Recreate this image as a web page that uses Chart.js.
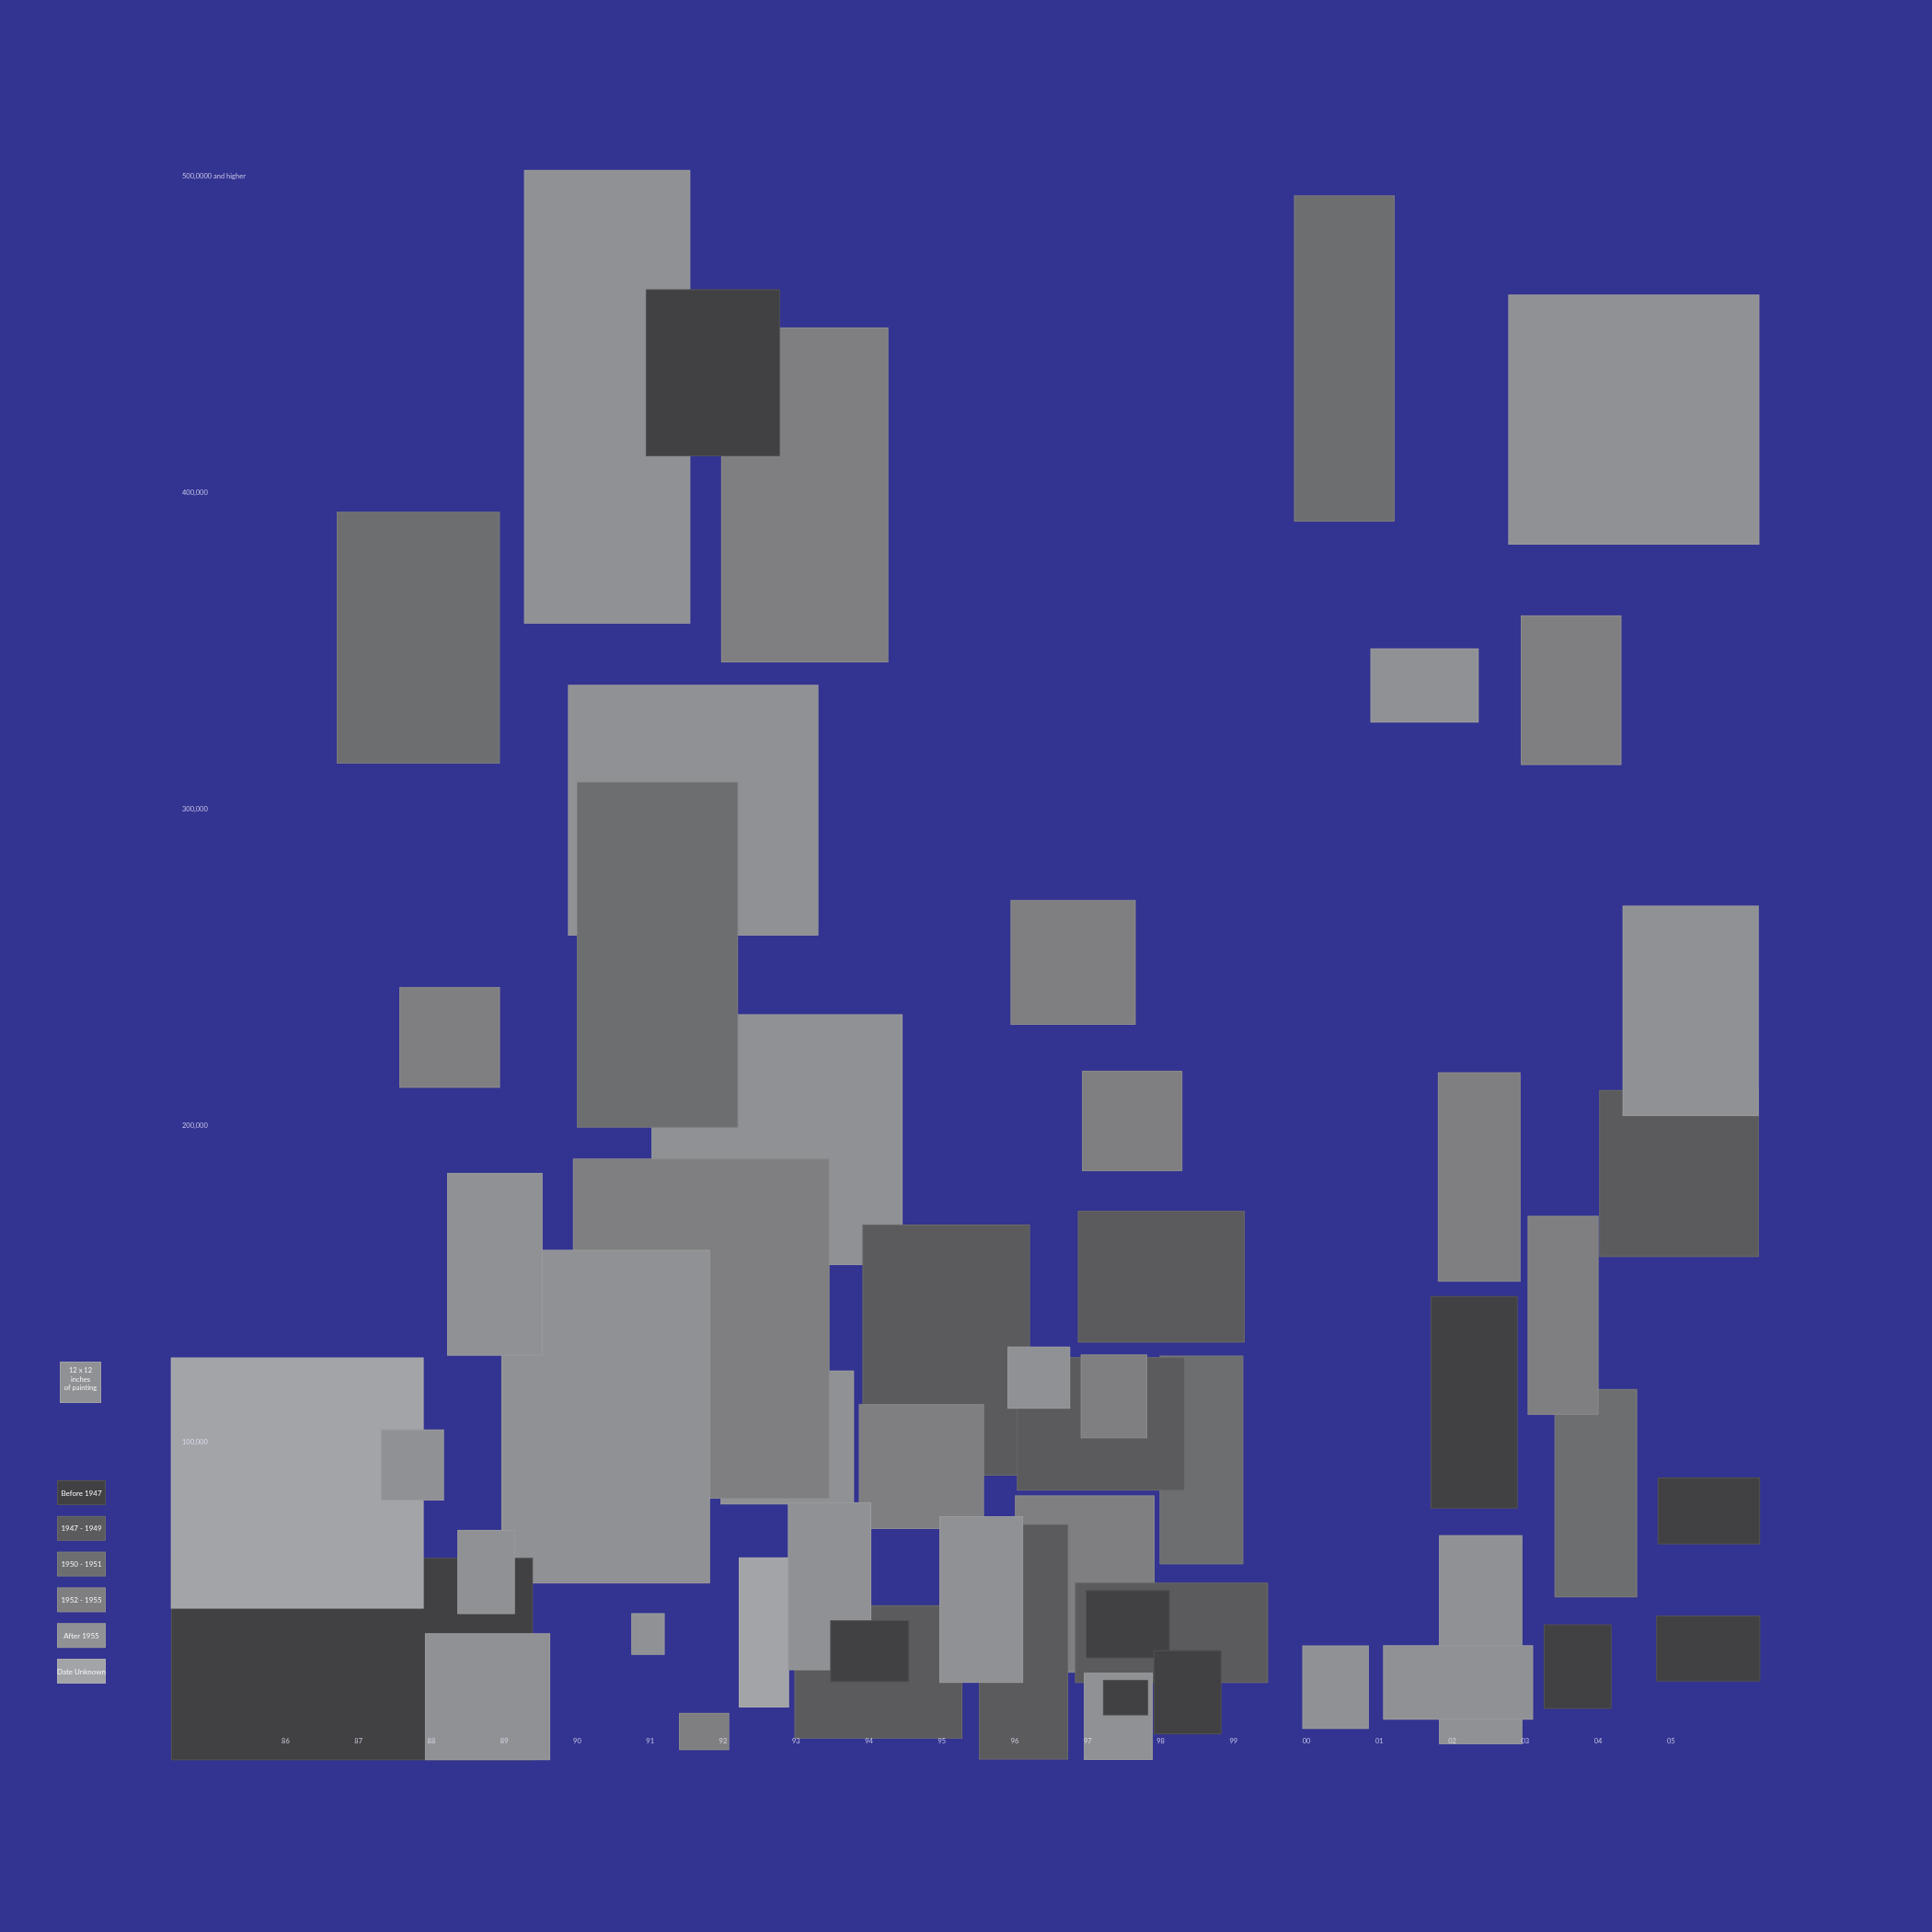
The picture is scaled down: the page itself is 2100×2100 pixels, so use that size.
<!DOCTYPE html>
<html>
<head>
<meta charset="utf-8">
<script src="https://cdn.jsdelivr.net/npm/chart.js@4.4.1/dist/chart.umd.min.js"></script>
<style>
html,body{margin:0;padding:0;background:#333391;}
#wrap{width:2100px;height:2100px;}
canvas{display:block;}
</style>
</head>
<body>
<div id="wrap"><canvas id="c" width="2100" height="2100"></canvas></div>
<script>
// ---- data ----
const periods = ['Before 1947','1947 - 1949','1950 - 1951','1952 - 1955','After 1955','Date Unknown'];
const periodColors = ['#414143','#5b5b5d','#6d6e70','#7f7f81','#909194','#a3a4a7'];

// sale year (decimal), price in dollars, painting width/height in inches, period index
const saleYears = [1987.82,1988.25,1990.41,1993.12,1991.86,1991.59,1992.74,1991.10,1992.88,1991.70,
  1990.39,1988.87,1986.91,1986.16,1987.74,1988.75,1988.77,1990.97,1991.74,
  1995.06,1994.72,1992.56,1994.13,1993.46,1994.01,
  1996.96,1996.12,1995.54,1998.15,1997.55,1998.37,1997.42,1997.52,
  1998.56,1997.18,1996.33,1997.36,1998.01,1996.80,1997.61,
  2000.52,2004.49,2001.62,2003.63,2005.11,2005.27,2002.37,2002.30,2003.97,2003.52,
  2005.52,2005.51,2003.72,2000.40,2002.39,2002.08];
const prices = [354300,228000,430400,399400,438000,299800,195700,254100,101600,136000,
  108200,156300,31600,87200,92900,59100,19700,39500,8700,
  129200,92400,40000,27500,54600,34100,
  55300,37000,50400,39900,42600,21100,13500,19400,
  94500,105900,120500,114600,152400,251700,201600,
  442500,423200,339200,337700,185000,236400,183900,112700,84000,140200,
  78400,34900,29200,22700,37700,24200];
const widthsIn = [47.3,29.2,48.2,48.5,38.9,72.6,72.8,46.7,38.7,74.4,
  60.5,27.7,104.9,73.3,18.3,16.7,36.3,9.7,14.6,
  48.6,36.3,14.6,48.7,24.2,22.9,
  40.5,25.9,24.3,56.0,24.4,19.7,20.0,13.1,
  24.3,48.7,18.2,19.3,48.4,36.3,29.1,
  29.2,72.8,31.4,29.2,46.3,39.5,24.0,25.3,24.0,20.6,
  29.7,30.2,19.7,19.3,24.2,43.5];
const heightsIn = [73.0,29.2,131.5,97.1,48.4,72.7,72.7,100.2,38.8,98.6,
  96.7,53.0,58.7,72.8,20.6,24.4,36.8,12.1,10.8,
  72.8,36.2,43.5,38.7,48.7,17.9,
  51.4,68.2,48.3,29.1,19.8,24.4,25.3,10.3,
  60.5,38.7,18.0,24.3,38.2,36.2,29.1,
  94.6,72.5,21.5,43.4,48.4,61.0,60.7,61.6,60.4,57.7,
  19.4,19.1,24.5,24.2,60.6,21.6];
const periodIndex = [2,3,4,3,0,4,4,2,4,3,
  4,4,0,5,4,4,4,4,3,
  1,3,5,1,4,0,
  3,1,4,1,0,0,4,0,
  2,1,4,3,1,3,3,
  2,4,4,3,1,4,3,0,2,3,
  0,0,0,4,4,4];

const xTickValues = [1986,1987,1988,1989,1990,1991,1992,1993,1994,1995,1996,1997,1998,1999,2000,2001,2002,2003,2004,2005];
const xTickLabels = ['86','87','88','89','90','91','92','93','94','95','96','97','98','99','00','01','02','03','04','05'];
const yTickValues = [500000,400000,300000,200000,100000];
const yTickLabels = ['500,0000 and higher','400,000','300,000','200,000','100,000'];

const scaleKeyInches = 12;          // legend key square: 12 x 12 inches
const keyLines = ['12 x 12','inches','of painting'];

// ---- drawing constants ----
const BG = '#333391';
const PLOT_WIDTH_INCHES = 460.5;    // inches of painting spanned by the plot width
const FONT = 'Lato, "Open Sans", sans-serif';

const paintingsPlugin = {
  id: 'paintings',
  beforeDraw(chart) {
    const ctx = chart.ctx;
    ctx.save();
    ctx.fillStyle = BG;
    ctx.fillRect(0, 0, chart.width, chart.height);
    ctx.restore();
  },
  afterDatasetsDraw(chart) {
    const ctx = chart.ctx;
    const meta = chart.getDatasetMeta(0);
    const ppi = chart.chartArea.width / PLOT_WIDTH_INCHES;
    ctx.save();
    meta.data.forEach((el, i) => {
      const w = widthsIn[i] * ppi, h = heightsIn[i] * ppi;
      const x0 = el.x - w / 2, y0 = el.y - h / 2;
      ctx.fillStyle = periodColors[periodIndex[i]];
      ctx.fillRect(x0, y0, w, h);
      ctx.strokeStyle = 'rgba(255,255,255,0.09)';
      ctx.lineWidth = 1;
      ctx.strokeRect(x0 + 0.5, y0 + 0.5, w - 1, h - 1);
    });
    ctx.restore();
  },
  afterDraw(chart) {
    const ctx = chart.ctx;
    const xs = chart.scales.x, ys = chart.scales.y;
    const ppi = chart.chartArea.width / PLOT_WIDTH_INCHES;
    ctx.save();
    // tick labels
    ctx.fillStyle = 'rgba(232,232,252,0.78)';
    ctx.font = '7.5px ' + FONT;
    ctx.textBaseline = 'middle';
    ctx.textAlign = 'left';
    yTickValues.forEach((v, i) => {
      ctx.fillText(yTickLabels[i], chart.chartArea.left + 12, ys.getPixelForValue(v));
    });
    ctx.textAlign = 'center';
    const yLab = ys.getPixelForValue(0) - 19;
    xTickValues.forEach((v, i) => {
      ctx.fillText(xTickLabels[i], xs.getPixelForValue(v), yLab);
    });

    // key square (12 x 12 inches)
    const k = scaleKeyInches * ppi;
    const kx = 65, ky = 1480;
    ctx.fillStyle = periodColors[4];
    ctx.fillRect(kx, ky, k, k);
    ctx.strokeStyle = 'rgba(255,255,255,0.14)';
    ctx.lineWidth = 1;
    ctx.strokeRect(kx + 0.5, ky + 0.5, k - 1, k - 1);
    ctx.fillStyle = '#f2f2f4';
    ctx.font = '7.5px ' + FONT;
    keyLines.forEach((t, i) => ctx.fillText(t, kx + k / 2, ky + 10 + i * 9.5));

    // period legend
    const lx = 62, ly = 1609, lw = 53, lh = 27, step = 38.8;
    ctx.font = '8px ' + FONT;
    periods.forEach((p, i) => {
      const y = ly + i * step;
      ctx.fillStyle = periodColors[i];
      ctx.fillRect(lx, y, lw, lh);
      ctx.strokeStyle = 'rgba(255,255,255,0.09)';
      ctx.strokeRect(lx + 0.5, y + 0.5, lw - 1, lh - 1);
      ctx.fillStyle = '#f4f4f6';
      ctx.fillText(p, lx + lw / 2, y + lh / 2 + 0.5);
    });
    ctx.restore();
  }
};

new Chart(document.getElementById('c'), {
  type: 'scatter',
  data: {
    datasets: [{
      label: 'Paintings',
      data: saleYears.map((x, i) => ({ x: x, y: prices[i] })),
      pointRadius: 0,
      pointHoverRadius: 0,
      showLine: false
    }]
  },
  options: {
    responsive: false,
    animation: false,
    devicePixelRatio: 1,
    events: [],
    layout: { padding: { left: 186, right: 187, top: 185, bottom: 188 } },
    scales: {
      x: { type: 'linear', min: 1984.43, max: 2006.22, display: false },
      y: { type: 'linear', min: 0, max: 502000, display: false }
    },
    plugins: { legend: { display: false }, tooltip: { enabled: false } }
  },
  plugins: [paintingsPlugin]
});
</script>
</body>
</html>
